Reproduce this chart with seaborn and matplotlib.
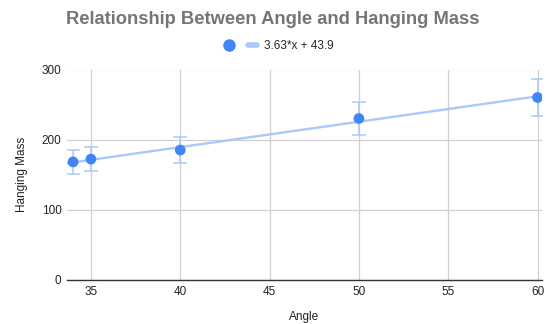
import numpy as np
import pandas as pd
import matplotlib
matplotlib.use("Agg")
import matplotlib.pyplot as plt
from matplotlib.lines import Line2D
import seaborn as sns

# Measurements
angle = [34, 35, 40, 50, 60]
hanging_mass = [168, 172, 185, 230, 260]
error_pct = 0.10

# Linear trendline coefficients
slope = 3.63
intercept = 43.9

x_ticks = [35, 40, 45, 50, 55, 60]
y_ticks = [0, 100, 200, 300]

sns.set_theme(style="whitegrid")
plt.rcParams["font.family"] = ["Liberation Sans", "DejaVu Sans"]

POINT = "#4285F4"
TREND = "#A9C8FB"

df = pd.DataFrame({"Angle": angle, "Hanging Mass": hanging_mass})

W, H = 546, 324
fig = plt.figure(figsize=(W / 100, H / 100), dpi=100)
left, right, top, bottom = 67, 542, 69.5, 279.5
ax = fig.add_axes([left / W, 1 - bottom / H, (right - left) / W, (bottom - top) / H])

xlim = (33.66, 60.25)
tx = np.array(xlim)
trend = pd.DataFrame({"Angle": tx, "Hanging Mass": slope * tx + intercept})
sns.lineplot(data=trend, x="Angle", y="Hanging Mass", ax=ax, color=TREND,
             linewidth=1.7, zorder=2)

ax.errorbar(df["Angle"], df["Hanging Mass"],
            yerr=df["Hanging Mass"] * error_pct, fmt="none",
            ecolor=TREND, elinewidth=1.1, capsize=5, capthick=1.1, zorder=3)

sns.scatterplot(data=df, x="Angle", y="Hanging Mass", ax=ax, color=POINT,
                s=60, edgecolor="none", zorder=4)

ax.set_xlim(*xlim)
ax.set_ylim(0, 300)
ax.set_xticks(x_ticks)
ax.set_yticks(y_ticks)
ax.grid(True, color="#d0d0d0", linewidth=0.9)
for side in ["top", "right", "left"]:
    ax.spines[side].set_visible(False)
ax.spines["bottom"].set_color("#333333")
ax.spines["bottom"].set_linewidth(1.0)
ax.tick_params(axis="x", length=0, labelsize=8.5, labelcolor="#222222", pad=5)
ax.tick_params(axis="y", length=0, labelsize=8.5, labelcolor="#222222", pad=4)

ax.set_xlabel("Angle", fontsize=8.5, color="#222222", labelpad=9)
ax.set_ylabel("Hanging Mass", fontsize=8.5, color="#222222", labelpad=10)

fig.text(0.5, 1 - 19 / H, "Relationship Between Angle and Hanging Mass",
         ha="center", va="center", fontsize=13.2, fontweight="bold",
         color="#757575")

handles = [
    Line2D([], [], marker="o", linestyle="none", markersize=9,
           markerfacecolor=POINT, markeredgecolor="none"),
    Line2D([], [], color=TREND, linewidth=4),
]
fig.legend(handles, ["", "3.63*x + 43.9"], loc="center",
           bbox_to_anchor=(279 / W, 1 - 46 / H), ncol=2, frameon=False,
           fontsize=8.5, handlelength=0.8, columnspacing=0.6,
           handletextpad=0.6)

fig.savefig("out.png", dpi=100)
